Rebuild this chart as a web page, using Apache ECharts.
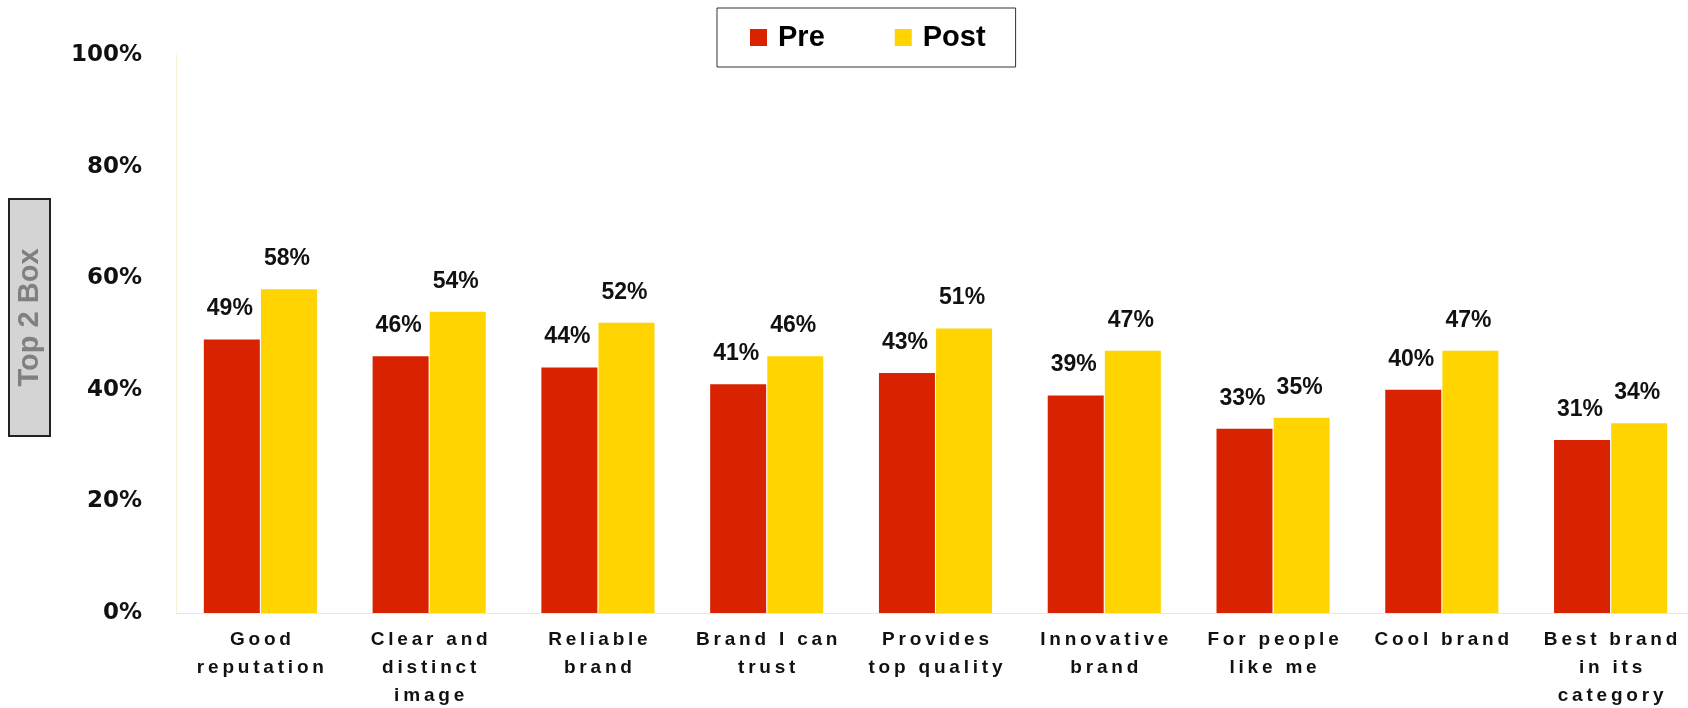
<!DOCTYPE html>
<html lang="en">
  <head>
    <meta charset="utf-8">
    <script src="https://cdn.jsdelivr.net/npm/echarts@6.0.0/dist/echarts.min.js"></script>
    <style>
      html, body { margin: 0; padding: 0; background: #fff; }
      #chart { width: 1688px; height: 708px; }
    </style>
  </head>
  <body>
    <div id="chart"></div>
    <script>
      // categories, as written on the axis (line breaks where the picture wraps)
      const categories = [
        'Good\nreputation',
        'Clear and\ndistinct\nimage',
        'Reliable\nbrand',
        'Brand I can\ntrust',
        'Provides\ntop quality',
        'Innovative\nbrand',
        'For people\nlike me',
        'Cool brand',
        'Best brand\nin its\ncategory'
      ];
      // Top 2 Box, in %
      const preValues  = [49, 46, 44, 41, 43, 39, 33, 40, 31];
      const postValues = [58, 54, 52, 46, 51, 47, 35, 47, 34];
      const yTicks = [0, 20, 40, 60, 80, 100];

      const RED = '#d82200';
      const YELLOW = '#ffd400';

      // the axis labels are letter-spaced in the original: put a thin space between the letters
      function spaced(s) {
        return s.split('\n').map(function (line) {
          return line.split('').join('\u2009');
        }).join('\n');
      }

      var barLabel = {
        show: true,
        position: 'top',
        distance: 19,
        offset: [-2, 0],
        formatter: '{c}%',
        fontSize: 23,
        fontWeight: 'bold',
        color: '#111'
      };

      var myChart = echarts.init(document.getElementById('chart'));

      var option = {
        animation: false,
        backgroundColor: '#ffffff',
        textStyle: { fontFamily: '"Liberation Sans", Arial, sans-serif' },
        legend: {
          left: 717,
          top: 8,
          padding: [15, 30, 15, 33],
          borderColor: '#333',
          borderWidth: 1,
          itemWidth: 17,
          itemHeight: 17,
          itemGap: 70,
          icon: 'rect',
          textStyle: {
            fontSize: 29,
            fontWeight: 'bold',
            color: '#000',
            padding: [0, 0, 0, 6]
          },
          data: ['Pre', 'Post']
        },
        grid: {
          left: 176,
          right: -7,
          top: 55,
          bottom: 95,
          containLabel: false,
          outerBoundsMode: 'none'
        },
        xAxis: {
          type: 'category',
          data: categories.map(spaced),
          axisLine: { lineStyle: { color: '#fbe9a4', width: 1 } },
          axisTick: { show: false },
          axisLabel: {
            interval: 0,
            margin: 13,
            fontSize: 19,
            fontWeight: 'bold',
            lineHeight: 28,
            color: '#111'
          }
        },
        yAxis: {
          type: 'value',
          min: yTicks[0],
          max: yTicks[yTicks.length - 1],
          interval: 20,
          splitLine: { show: false },
          axisTick: { show: false },
          axisLine: { show: true, lineStyle: { color: '#f6f0d6', width: 1 } },
          axisLabel: {
            margin: 34,
            fontSize: 23,
            fontWeight: 'bold',
            fontFamily: '"DejaVu Sans", sans-serif',
            color: '#111',
            padding: [6, 0, 0, 0],
            formatter: '{value}%'
          }
        },
        graphic: [
          {
            type: 'rect',
            shape: { x: 9, y: 199, width: 41, height: 237 },
            style: { fill: '#d4d4d4', stroke: '#222', lineWidth: 2 }
          },
          {
            type: 'text',
            x: 30,
            y: 317.5,
            rotation: Math.PI / 2,
            style: {
              text: 'Top 2 Box',
              fill: '#808080',
              font: 'bold 29px "Liberation Sans", Arial, sans-serif',
              align: 'center',
              verticalAlign: 'middle'
            }
          }
        ],
        series: [
          {
            name: 'Pre',
            type: 'bar',
            data: preValues,
            barWidth: 56,
            barGap: '2%',
            itemStyle: { color: RED },
            label: barLabel
          },
          {
            name: 'Post',
            type: 'bar',
            data: postValues,
            barWidth: 56,
            itemStyle: { color: YELLOW },
            label: barLabel
          }
        ]
      };
      myChart.setOption(option);
    </script>
  </body>
</html>
